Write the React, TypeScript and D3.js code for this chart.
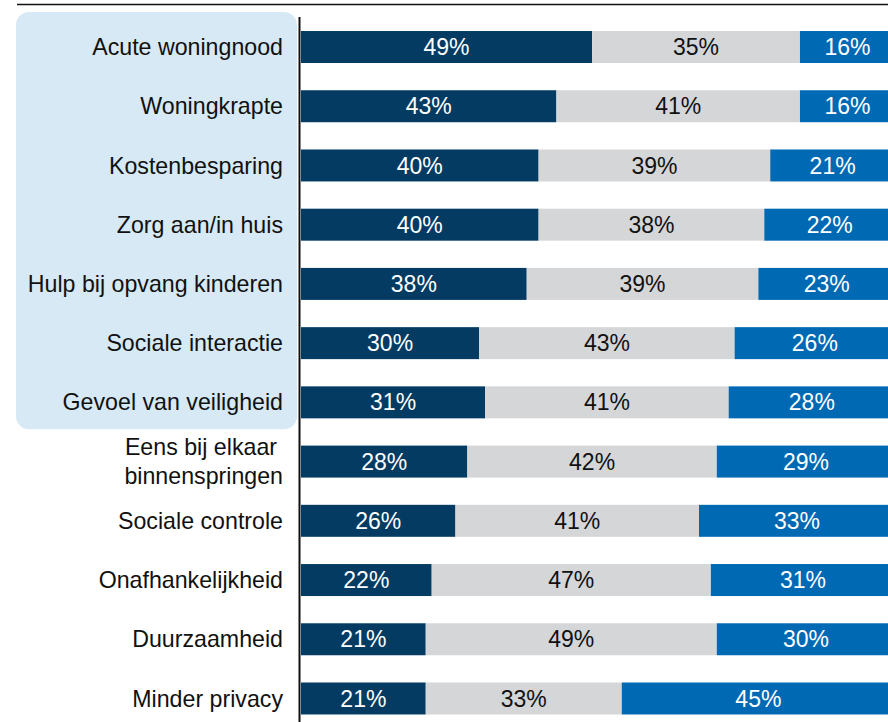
import React from "react";
import * as d3 from "d3";

const categories = [
  "Acute woningnood",
  "Woningkrapte",
  "Kostenbesparing",
  "Zorg aan/in huis",
  "Hulp bij opvang kinderen",
  "Sociale interactie",
  "Gevoel van veiligheid",
  "Eens bij elkaar|binnenspringen",
  "Sociale controle",
  "Onafhankelijkheid",
  "Duurzaamheid",
  "Minder privacy",
];
const seriesA = [49, 43, 40, 40, 38, 30, 31, 28, 26, 22, 21, 21];
const seriesB = [35, 41, 39, 38, 39, 43, 41, 42, 41, 47, 49, 33];
const seriesC = [16, 16, 21, 22, 23, 26, 28, 29, 33, 31, 30, 45];
const highlighted = 7; // first N categories highlighted

const W = 888;
const H = 722;
const colors = ["#033b63", "#d5d6d8", "#0069b4"];
const textColors = ["#ffffff", "#111111", "#ffffff"];
const FONT = "'Liberation Sans', Arial, Helvetica, sans-serif";

export default function App() {
  const x = d3.scaleLinear().domain([0, 100]).range([301, 895]);
  const y = d3
    .scaleBand<string>()
    .domain(categories)
    .range([17.4, 728.1])
    .paddingInner(0.46)
    .paddingOuter(0.23);
  const bw = y.bandwidth();

  const rows = categories.map((c, i) => {
    const vals = [seriesA[i], seriesB[i], seriesC[i]];
    let acc = 0;
    const segs = vals.map((v, k) => {
      const x0 = acc;
      acc += v;
      const x1 = k === vals.length - 1 ? 100 : acc;
      return { v, x0, x1, k };
    });
    return { c, segs };
  });

  const boxTop = (y(categories[0]) as number) - 19;
  const boxBottom = (y(categories[highlighted - 1]) as number) + bw + 11;

  return (
    <svg
      width={W}
      height={H}
      style={{ position: "absolute", left: 0, top: 0, display: "block" }}
      fontFamily={FONT}
    >
      <rect x={0} y={0} width={W} height={H} fill="#ffffff" />
      <line x1={17} x2={W} y1={4.5} y2={4.5} stroke="#111" strokeWidth={1.5} />
      <rect
        x={16}
        y={boxTop}
        width={281}
        height={boxBottom - boxTop}
        rx={13}
        ry={13}
        fill="#d6e9f5"
      />
      {rows.map((r) => {
        const yy = y(r.c) as number;
        const cy = yy + bw / 2;
        const lines = r.c.split("|");
        return (
          <g key={r.c}>
            {r.segs.map((s) => (
              <rect
                key={s.k}
                x={x(s.x0)}
                y={yy}
                width={x(s.x1) - x(s.x0)}
                height={bw}
                fill={colors[s.k]}
              />
            ))}
            {r.segs.map((s) => (
              <text
                key={"t" + s.k}
                x={(x(s.x0) + x(s.x1)) / 2}
                y={cy}
                dy="0.35em"
                textAnchor="middle"
                fontSize={23}
                fill={textColors[s.k]}
              >
                {s.v}%
              </text>
            ))}
            {lines.map((ln, li) => (
              <text
                key={"l" + li}
                x={283 - (lines.length > 1 && li === 0 ? 6 : 0)}
                y={cy + (li - (lines.length - 1) / 2) * 29}
                dy="0.35em"
                textAnchor="end"
                fontSize={23.2}
                fill="#111"
              >
                {ln}
              </text>
            ))}
          </g>
        );
      })}
      <line x1={299.5} x2={299.5} y1={17} y2={H} stroke="#111" strokeWidth={2} />
    </svg>
  );
}
